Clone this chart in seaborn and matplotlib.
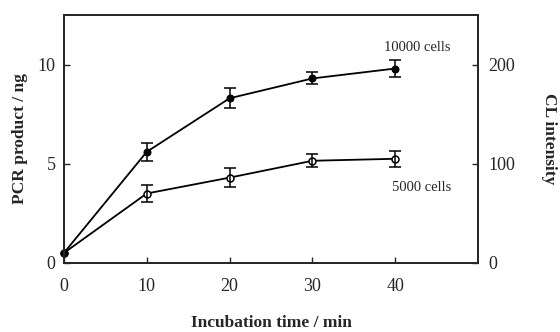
import pandas as pd
import seaborn as sns
from matplotlib import pyplot as plt

# data
time_min = [0, 10, 20, 30, 40]
pcr_10000 = [0.5, 5.6, 8.3, 9.3, 9.8]
err_10000 = [0.0, 0.45, 0.5, 0.3, 0.45]
pcr_5000 = [0.5, 3.5, 4.3, 5.15, 5.25]
err_5000 = [0.0, 0.45, 0.48, 0.33, 0.4]

df = pd.DataFrame({"time": time_min * 2,
                   "pcr": pcr_10000 + pcr_5000,
                   "err": err_10000 + err_5000,
                   "cells": ["10000 cells"] * 5 + ["5000 cells"] * 5})

sns.set_style("ticks")
plt.rcParams['font.family'] = ['Liberation Serif', 'DejaVu Serif']

fig = plt.figure(figsize=(5.6, 3.32), dpi=100)
ax = fig.add_axes([0.114, 0.208, 0.74, 0.747])

d1 = df[df["cells"] == "10000 cells"]
d2 = df[df["cells"] == "5000 cells"]

# open circles first, filled on top
sns.lineplot(x="time", y="pcr", data=d2, ax=ax, color="black", lw=1.3,
             marker="o", markersize=5, markerfacecolor="white",
             markeredgecolor="black", markeredgewidth=1.1, clip_on=False)
sns.lineplot(x="time", y="pcr", data=d1, ax=ax, color="black", lw=1.3,
             marker="o", markersize=5, markerfacecolor="black",
             markeredgecolor="black", clip_on=False)

for d in (d1, d2):
    ax.errorbar(d["time"][1:], d["pcr"][1:], yerr=d["err"][1:], fmt="none",
                ecolor="black", elinewidth=1.1, capsize=4, capthick=1.1)

ax.set_xlim(0, 50)
ax.set_ylim(0, 12.5)
ax.set_xticks([0, 10, 20, 30, 40])
ax.set_yticks([0, 5, 10])
ax.tick_params(direction="in", length=4, width=1, labelsize=13, pad=6)
ax.tick_params(axis="x", pad=11)
for s in ax.spines.values():
    s.set_linewidth(1.3)

ax.set_xlabel("Incubation time / min", fontsize=12.5, fontweight="bold",
              labelpad=14)
ax.set_ylabel("PCR product / ng", fontsize=12.5, fontweight="bold",
              labelpad=7)

ax.text(42.6, 10.85, "10000 cells", fontsize=10.5, ha="center", va="center")
ax.text(43.2, 3.8, "5000 cells", fontsize=10.5, ha="center", va="center")

ax2 = ax.twinx()
ax2.set_ylim(0, 250)
ax2.set_yticks([0, 100, 200])
ax2.tick_params(direction="in", length=4, width=1, labelsize=13, pad=7)
ax2.set_ylabel("CL intensity", fontsize=12.5, fontweight="bold",
               rotation=-90, labelpad=30)
for s in ax2.spines.values():
    s.set_linewidth(1.3)

fig.savefig("out.png", dpi=100)
